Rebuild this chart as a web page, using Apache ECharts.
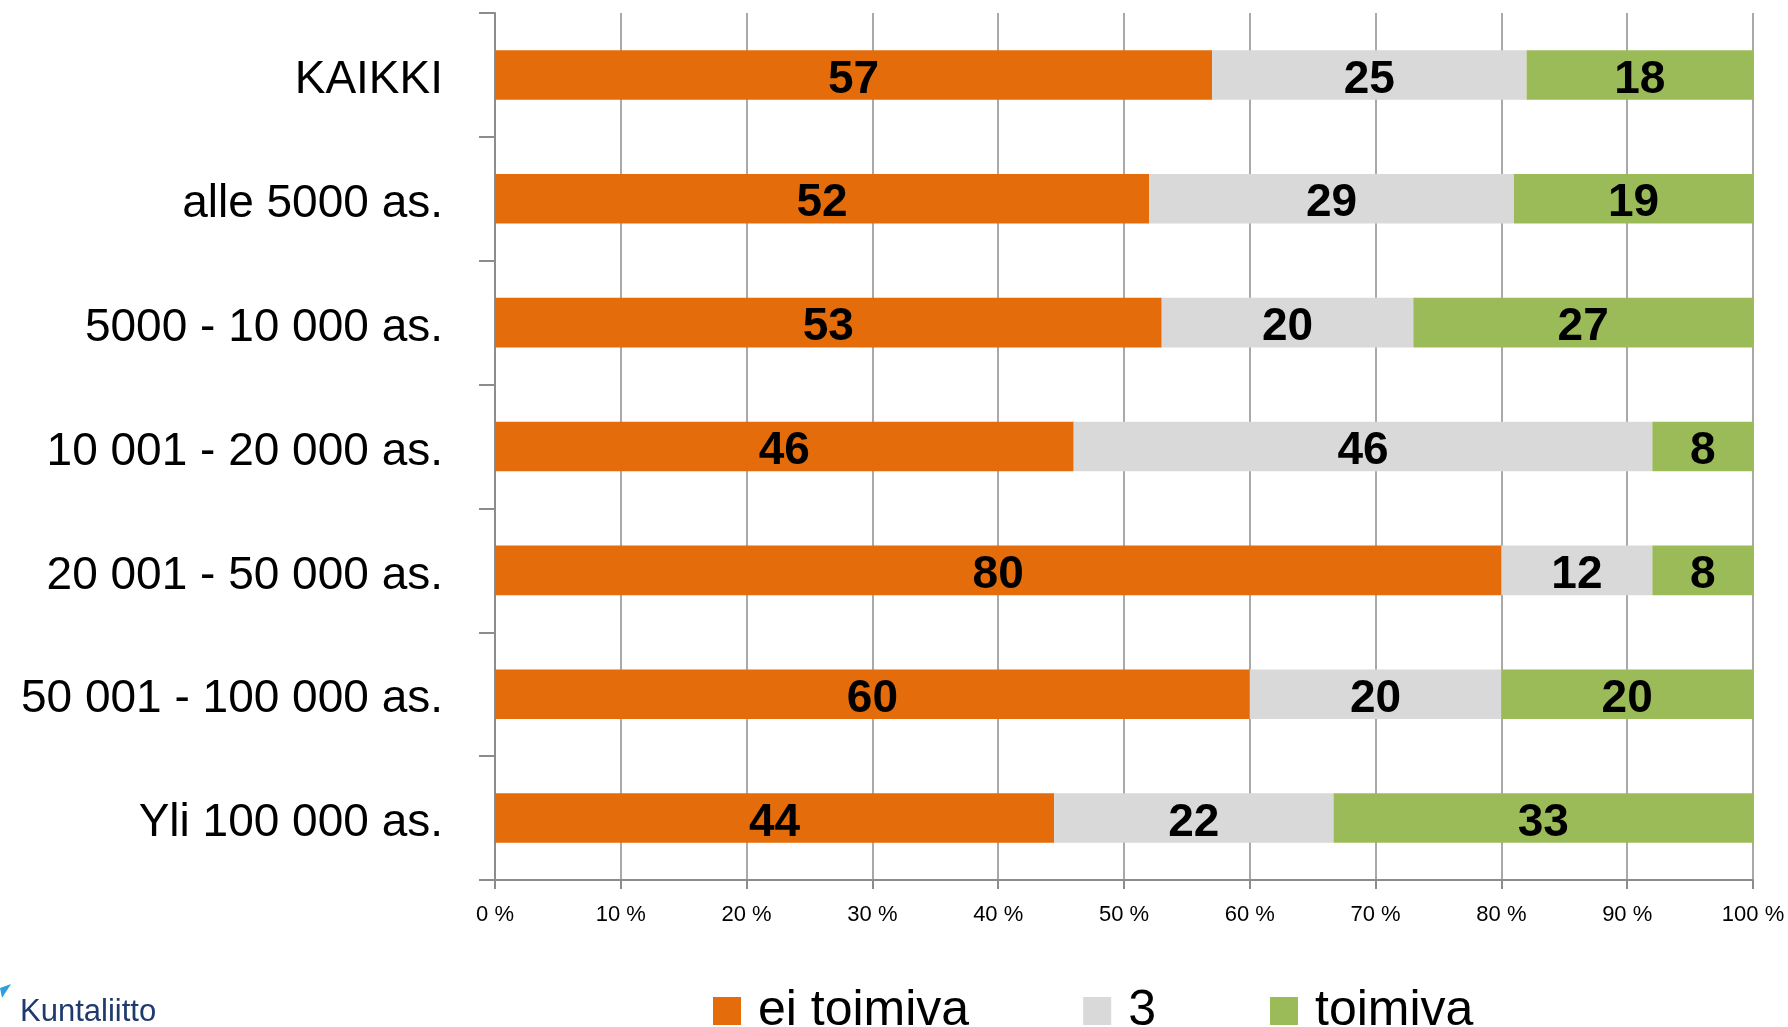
<!DOCTYPE html>
<html>
<head>
<meta charset="utf-8">
<script src="https://cdn.jsdelivr.net/npm/echarts@6/dist/echarts.min.js"></script>
<style>
html,body{margin:0;padding:0;background:#fff;}
#chart{width:1788px;height:1027px;}
</style>
</head>
<body>
<div id="chart"></div>
<script>
var categories = ['KAIKKI', 'alle 5000 as.', '5000 - 10 000 as.', '10 001 - 20 000 as.', '20 001 - 50 000 as.', '50 001 - 100 000 as.', 'Yli 100 000 as.'];
var eiToimiva = [57, 52, 53, 46, 80, 60, 44.44];
var kolme = [25, 29, 20, 46, 12, 20, 22.22];
var toimiva = [18, 19, 27, 8, 8, 20, 33.34];
var seriesNames = ['ei toimiva', '3', 'toimiva'];
var xTicks = [0, 10, 20, 30, 40, 50, 60, 70, 80, 90, 100];

var FONT = '"Liberation Sans", Arial, sans-serif';
var colors = ['#E46C0A', '#D9D9D9', '#9BBB59'];
var dataSets = [eiToimiva, kolme, toimiva];

var chart = echarts.init(document.getElementById('chart'), null, {renderer: 'canvas'});
var series = seriesNames.map(function (name, i) {
  return {
    name: name,
    type: 'bar',
    stack: 'total',
    barWidth: '40%',
    data: dataSets[i],
    itemStyle: {color: colors[i]},
    label: {
      show: true,
      position: 'inside',
      offset: [0, 5],
      fontFamily: FONT,
      fontWeight: 'bold',
      fontSize: 46,
      color: '#000',
      formatter: function (p) { return Math.round(p.value); }
    }
  };
});

chart.setOption({
  animation: false,
  textStyle: {fontFamily: FONT},
  grid: {left: 495, right: 35, top: 13, bottom: 147, containLabel: false},
  legend: {
    data: seriesNames,
    left: 713,
    top: 986,
    padding: 0,
    itemWidth: 28,
    itemHeight: 28,
    itemGap: 114,
    icon: 'rect',
    textStyle: {fontFamily: FONT, fontSize: 50, color: '#000', padding: [0, 0, 0, 12]}
  },
  xAxis: {
    type: 'value',
    min: 0,
    max: 100,
    interval: 10,
    axisLine: {show: true, lineStyle: {color: '#8C8C8C', width: 2}},
    axisTick: {show: true, length: 9, lineStyle: {color: '#8C8C8C', width: 2}},
    splitLine: {show: true, lineStyle: {color: '#8C8C8C', width: 1.5}},
    axisLabel: {
      margin: 24,
      fontSize: 22,
      color: '#000',
      fontFamily: FONT,
      formatter: function (v) { return xTicks.indexOf(v) >= 0 ? v + ' %' : ''; }
    }
  },
  yAxis: {
    type: 'category',
    inverse: true,
    data: categories,
    axisLine: {show: true, lineStyle: {color: '#8C8C8C', width: 2}},
    axisTick: {show: true, length: 16, lineStyle: {color: '#8C8C8C', width: 2}},
    axisLabel: {
      margin: 52,
      color: '#000',
      formatter: function (v) { return '{c|' + v + '}'; },
      rich: {c: {fontSize: 46, color: '#000', fontFamily: FONT, padding: [11, 0, 0, 0]}}
    }
  },
  graphic: [
    {
      type: 'polygon',
      shape: {points: [[0, 988], [11, 984], [2, 998]]},
      style: {fill: '#2E9FDB'}
    },
    {
      type: 'text',
      left: 20,
      top: 997,
      style: {text: 'Kuntaliitto', fill: '#1F3A6E', font: '31px ' + FONT}
    }
  ],
  series: series
});
</script>
</body>
</html>
